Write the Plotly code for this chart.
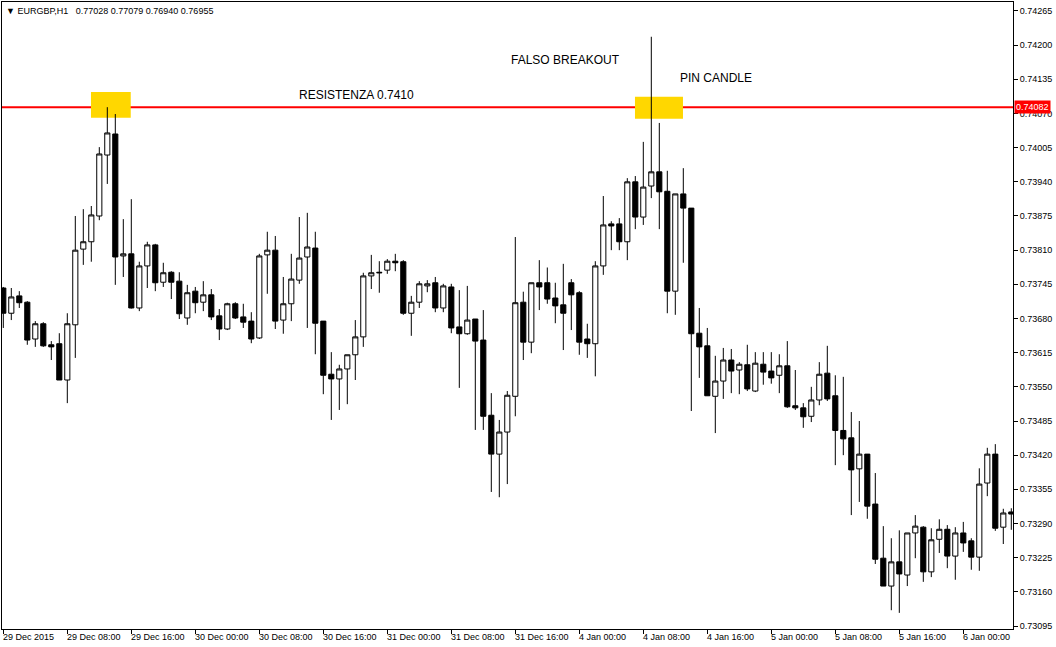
import plotly.graph_objects as go

# ---------------- data (EURGBP H1, bar index 0 = 29 Dec 2015 00:00) ----------------
open_ = [0.73738, 0.73690, 0.73723, 0.73711, 0.73641, 0.73670, 0.73630, 0.73632, 0.73563, 0.73668,
         0.73812, 0.73826, 0.73875, 0.73991, 0.74031, 0.73799, 0.73803, 0.73700, 0.73780, 0.73820,
         0.73749, 0.73768, 0.73751, 0.73681, 0.73732, 0.73711, 0.73725, 0.73685, 0.73660, 0.73708,
         0.73683, 0.73675, 0.73643, 0.73801, 0.73810, 0.73677, 0.73708, 0.73753, 0.73797, 0.73814,
         0.73675, 0.73574, 0.73565, 0.73584, 0.73611, 0.73645, 0.73761, 0.73768, 0.73772, 0.73789,
         0.73788, 0.73690, 0.73711, 0.73742, 0.73748, 0.73700, 0.73740, 0.73664, 0.73651, 0.73679,
         0.73639, 0.73496, 0.73422, 0.73464, 0.73532, 0.73711, 0.73635, 0.73748, 0.73748, 0.73719,
         0.73706, 0.73748, 0.73729, 0.73641, 0.73632, 0.73780, 0.73860, 0.73860, 0.73826, 0.73940,
         0.73873, 0.73932, 0.73959, 0.73922, 0.73732, 0.73917, 0.73890, 0.73652, 0.73628, 0.73532,
         0.73561, 0.73601, 0.73582, 0.73592, 0.73542, 0.73593, 0.73580, 0.73572, 0.73590, 0.73514,
         0.73510, 0.73494, 0.73525, 0.73576, 0.73533, 0.73467, 0.73453, 0.73394, 0.73422, 0.73327,
         0.73224, 0.73171, 0.73217, 0.73192, 0.73272, 0.73283, 0.73198, 0.73260, 0.73279, 0.73228,
         0.73272, 0.73257, 0.73226, 0.73367, 0.73422, 0.73283, 0.73312]
high = [0.73740, 0.73738, 0.73732, 0.73713, 0.73675, 0.73673, 0.73637, 0.73652, 0.73690, 0.73875,
        0.73888, 0.73894, 0.74006, 0.74082, 0.74069, 0.73869, 0.73907, 0.73788, 0.73826, 0.73822,
        0.73786, 0.73770, 0.73768, 0.73744, 0.73740, 0.73751, 0.73736, 0.73698, 0.73710, 0.73711,
        0.73708, 0.73692, 0.73803, 0.73845, 0.73837, 0.73759, 0.73803, 0.73873, 0.73881, 0.73845,
        0.73675, 0.73616, 0.73592, 0.73611, 0.73677, 0.73767, 0.73801, 0.73789, 0.73793, 0.73803,
        0.73791, 0.73723, 0.73751, 0.73753, 0.73759, 0.73746, 0.73746, 0.73734, 0.73742, 0.73679,
        0.73696, 0.73538, 0.73487, 0.73542, 0.73835, 0.73731, 0.73748, 0.73791, 0.73777, 0.73748,
        0.73784, 0.73755, 0.73732, 0.73670, 0.73789, 0.73913, 0.73865, 0.73871, 0.73947, 0.73951,
        0.74016, 0.74216, 0.74052, 0.73961, 0.73917, 0.73966, 0.73890, 0.73700, 0.73662, 0.73609,
        0.73624, 0.73622, 0.73597, 0.73630, 0.73616, 0.73616, 0.73616, 0.73612, 0.73637, 0.73582,
        0.73519, 0.73550, 0.73597, 0.73628, 0.73572, 0.73569, 0.73502, 0.73485, 0.73422, 0.73386,
        0.73285, 0.73262, 0.73277, 0.73272, 0.73306, 0.73285, 0.73281, 0.73298, 0.73287, 0.73283,
        0.73293, 0.73262, 0.73395, 0.73434, 0.73441, 0.73318, 0.73319]
low = [0.73662, 0.73677, 0.73700, 0.73630, 0.73626, 0.73626, 0.73601, 0.73563, 0.73519, 0.73605,
       0.73782, 0.73788, 0.73867, 0.73936, 0.73744, 0.73759, 0.73699, 0.73694, 0.73738, 0.73732,
       0.73740, 0.73717, 0.73679, 0.73668, 0.73690, 0.73694, 0.73677, 0.73639, 0.73658, 0.73679,
       0.73662, 0.73633, 0.73641, 0.73727, 0.73660, 0.73651, 0.73675, 0.73746, 0.73662, 0.73612,
       0.73536, 0.73487, 0.73506, 0.73517, 0.73563, 0.73626, 0.73736, 0.73729, 0.73765, 0.73770,
       0.73687, 0.73647, 0.73700, 0.73730, 0.73692, 0.73692, 0.73652, 0.73548, 0.73649, 0.73468,
       0.73468, 0.73350, 0.73340, 0.73365, 0.73494, 0.73601, 0.73614, 0.73696, 0.73708, 0.73671,
       0.73620, 0.73658, 0.73611, 0.73605, 0.73570, 0.73763, 0.73810, 0.73810, 0.73791, 0.73850,
       0.73858, 0.73909, 0.73850, 0.73690, 0.73687, 0.73786, 0.73504, 0.73567, 0.73533, 0.73462,
       0.73527, 0.73538, 0.73536, 0.73542, 0.73540, 0.73554, 0.73556, 0.73538, 0.73510, 0.73506,
       0.73472, 0.73483, 0.73515, 0.73523, 0.73401, 0.73420, 0.73306, 0.73331, 0.73299, 0.73213,
       0.73171, 0.73125, 0.73120, 0.73171, 0.73224, 0.73179, 0.73188, 0.73234, 0.73205, 0.73183,
       0.73236, 0.73202, 0.73200, 0.73342, 0.73276, 0.73251, 0.73278]
close = [0.73690, 0.73721, 0.73710, 0.73639, 0.73670, 0.73628, 0.73626, 0.73563, 0.73670, 0.73810,
         0.73826, 0.73877, 0.73993, 0.74033, 0.73797, 0.73803, 0.73700, 0.73780, 0.73820, 0.73748,
         0.73767, 0.73749, 0.73689, 0.73729, 0.73710, 0.73725, 0.73683, 0.73660, 0.73708, 0.73681,
         0.73673, 0.73641, 0.73799, 0.73810, 0.73675, 0.73708, 0.73755, 0.73795, 0.73816, 0.73671,
         0.73572, 0.73565, 0.73584, 0.73611, 0.73645, 0.73761, 0.73767, 0.73767, 0.73789, 0.73786,
         0.73690, 0.73711, 0.73746, 0.73746, 0.73700, 0.73742, 0.73662, 0.73651, 0.73677, 0.73637,
         0.73494, 0.73422, 0.73464, 0.73534, 0.73710, 0.73635, 0.73748, 0.73740, 0.73717, 0.73704,
         0.73690, 0.73725, 0.73635, 0.73632, 0.73780, 0.73858, 0.73856, 0.73826, 0.73940, 0.73873,
         0.73930, 0.73959, 0.73921, 0.73732, 0.73917, 0.73890, 0.73651, 0.73626, 0.73533, 0.73561,
         0.73601, 0.73580, 0.73593, 0.73546, 0.73595, 0.73578, 0.73567, 0.73590, 0.73512, 0.73510,
         0.73493, 0.73525, 0.73574, 0.73527, 0.73467, 0.73451, 0.73392, 0.73422, 0.73323, 0.73222,
         0.73171, 0.73217, 0.73194, 0.73272, 0.73285, 0.73198, 0.73259, 0.73279, 0.73228, 0.73272,
         0.73253, 0.73226, 0.73365, 0.73422, 0.73281, 0.73310, 0.73308]
bars = list(range(len(open_)))

time_tick_bars = [0, 8, 16, 24, 32, 40, 48, 56, 64, 72, 80, 88, 96, 104, 112, 120]
time_tick_labels = ["29 Dec 2015", "29 Dec 08:00", "29 Dec 16:00", "30 Dec 00:00",
                    "30 Dec 08:00", "30 Dec 16:00", "31 Dec 00:00", "31 Dec 08:00",
                    "31 Dec 16:00", "4 Jan 00:00", "4 Jan 08:00", "4 Jan 16:00",
                    "5 Jan 00:00", "5 Jan 08:00", "5 Jan 16:00", "6 Jan 00:00"]
price_ticks = [0.73095, 0.73160, 0.73225, 0.73290, 0.73355, 0.73420, 0.73485, 0.73550,
               0.73615, 0.73680, 0.73745, 0.73810, 0.73875, 0.73940, 0.74005, 0.74070,
               0.74135, 0.74200, 0.74265]

resistance_level = 0.74082
header_text = "\u25BC EURGBP,H1\u00a0\u00a0 0.77028 0.77079 0.76940 0.76955"
zone_bars = [(10.96, 15.93), (78.96, 84.96)]
zone_prices = [(0.74062, 0.74111), (0.74060, 0.74102)]
notes = [("RESISTENZA 0.7410", 36.84, 0.74105),
         ("FALSO BREAKOUT", 63.34, 0.74172),
         ("PIN CANDLE", 84.46, 0.74138)]

FONT = "Liberation Sans, Arial, sans-serif"

fig = go.Figure()
fig.add_trace(go.Candlestick(
    x=bars, open=open_, high=high, low=low, close=close,
    increasing=dict(fillcolor="white", line=dict(color="black", width=1)),
    decreasing=dict(fillcolor="black", line=dict(color="black", width=1)),
    whiskerwidth=0, showlegend=False, hoverinfo="skip",
))

shapes = []
for (x0, x1), (y0, y1) in zip(zone_bars, zone_prices):
    shapes.append(dict(type="rect", xref="x", yref="y", x0=x0, x1=x1, y0=y0, y1=y1,
                       fillcolor="#FFD700", line=dict(width=0), layer="below"))
shapes.append(dict(type="line", xref="paper", yref="y", x0=0, x1=1,
                   y0=resistance_level, y1=resistance_level,
                   line=dict(color="#FF0000", width=2), layer="below"))

annotations = []
for lab, b in zip(time_tick_labels, time_tick_bars):
    annotations.append(dict(x=b, y=0, xref="x", yref="paper", text=lab, showarrow=False,
                            xanchor="left", yanchor="top", xshift=-2, yshift=-1,
                            font=dict(family=FONT, size=9, color="black")))
for txt, bx, py in notes:
    annotations.append(dict(x=bx, y=py, xref="x", yref="y", text=txt, showarrow=False,
                            xanchor="left", yanchor="middle", xshift=-1,
                            font=dict(family=FONT, size=12, color="black")))
annotations.append(dict(x=0, y=1, xref="paper", yref="paper", text=header_text, showarrow=False,
                        xanchor="left", yanchor="top", xshift=2, yshift=-2,
                        font=dict(family=FONT, size=9, color="black")))
annotations.append(dict(x=1, y=resistance_level, xref="paper", yref="y",
                        text=f"{resistance_level:.5f}", showarrow=False,
                        xanchor="left", yanchor="middle", xshift=1,
                        bgcolor="#FF0000", borderpad=1,
                        font=dict(family=FONT, size=9, color="white")))

fig.update_layout(
    width=1056, height=647,
    margin=dict(l=2, r=43, t=2, b=18),
    paper_bgcolor="white", plot_bgcolor="white",
    boxgap=0.36, boxgroupgap=0,
    shapes=shapes, annotations=annotations,
    xaxis=dict(type="linear", range=[-0.1625, 126.2125], showgrid=False, zeroline=False,
               showline=True, linecolor="black", linewidth=1, mirror=True,
               ticks="outside", ticklen=4, tickcolor="black",
               tickvals=time_tick_bars, showticklabels=False,
               rangeslider=dict(visible=False), fixedrange=True),
    yaxis=dict(side="right", range=[0.730893, 0.742821], showgrid=False, zeroline=False,
               showline=True, linecolor="black", linewidth=1, mirror=True,
               ticks="outside", ticklen=4, tickcolor="black",
               tickvals=price_ticks, ticktext=[f"{v:.5f}" for v in price_ticks],
               tickfont=dict(family=FONT, size=9, color="black"), fixedrange=True),
    font=dict(family=FONT),
)

fig.write_html("out.html", config={"displayModeBar": False},
               post_script="document.body.style.margin='0px';")
